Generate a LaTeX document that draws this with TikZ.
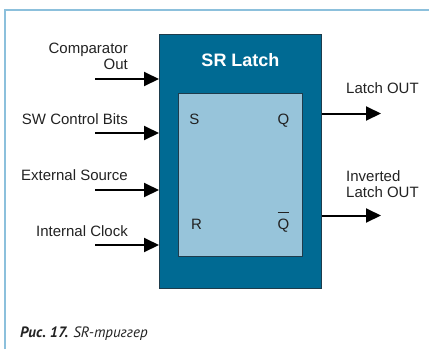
\documentclass[tikz,border=0pt]{standalone}
\usepackage{fontspec}
\setmainfont{Liberation Sans}
\newfontfamily\capfont{PT Sans}
\usetikzlibrary{arrows.meta,positioning}
\definecolor{latchblue}{HTML}{006A93}
\definecolor{coreblue}{HTML}{97C4DA}
\definecolor{edgeblue}{HTML}{1E3C4C}
\definecolor{framecol}{HTML}{8CC0DC}
\definecolor{txtcol}{HTML}{222222}

\begin{document}
\begin{tikzpicture}[
  x=1pt, y=-1pt,
  lbl/.style={font=\fontsize{15}{16.5}\selectfont, text=txtcol, inner sep=0pt},
  pin/.style={font=\fontsize{15}{16}\selectfont, text=txtcol, inner sep=0pt, anchor=base},
  sig/.style={-{Triangle[length=15pt,width=14pt]}, line width=2pt}
]
\useasboundingbox (0,0) rectangle (429,349);
% frame
\draw[framecol, line width=1.5pt] (5,349) -- (5,10) -- (429,10);

% latch block
\node[draw=edgeblue, fill=latchblue, line width=0.8pt, anchor=north west,
      minimum width=162pt, minimum height=254pt] (latch) at (159,34) {};
\node[draw=edgeblue, fill=coreblue, line width=0.8pt, anchor=north west,
      minimum width=124pt, minimum height=163pt] (core) at (178,93) {};
\node[anchor=base, text=white, inner sep=0pt, font=\fontsize{18}{20}\selectfont\bfseries] (title) at (240.5,66) {SR Latch};
\node[pin] (S) at (194.5,124) {S};
\node[pin] (Q) at (283.5,124) {Q};
\node[pin] (R) at (196.5,229) {R};
\node[pin] (Qn) at (283.5,229) {$\overline{\raisebox{0pt}[15pt]{Q}}$};

% inputs
\node[lbl, align=right, anchor=base east] (cmp) at (128,69.5) {Comparator\\Out};
\node[lbl, anchor=base east] (sw) at (128,124) {SW Control Bits};
\node[lbl, anchor=base east] (ext) at (128,180) {External Source};
\node[lbl, anchor=base east] (clk) at (128,236) {Internal Clock};
\coordinate (cmpin) at (95,79);
\coordinate (swin) at (95,133);
\coordinate (extin) at (95,190);
\coordinate (clkin) at (95,245);
\foreach \c in {cmpin,swin,extin,clkin}
  \draw[sig] (\c) -- (\c -| latch.west);

% outputs
\node[lbl, anchor=base west] (lout) at (346,93) {Latch OUT};
\node[lbl, align=left, anchor=base west] (iout) at (346,197.5) {Inverted\\Latch OUT};
\coordinate (qout) at (381,113.5);
\coordinate (qnout) at (381,215.5);
\draw[sig] (qout -| latch.east) -- (qout);
\draw[sig] (qnout -| latch.east) -- (qnout);

% caption
\node[anchor=base west, inner sep=0pt, text=txtcol] (cap) at (20,337.5)
  {\capfont\fontsize{15}{16}\selectfont\bfseries\itshape Рис.~17. \mdseries SR-триггер};
\end{tikzpicture}
\end{document}
